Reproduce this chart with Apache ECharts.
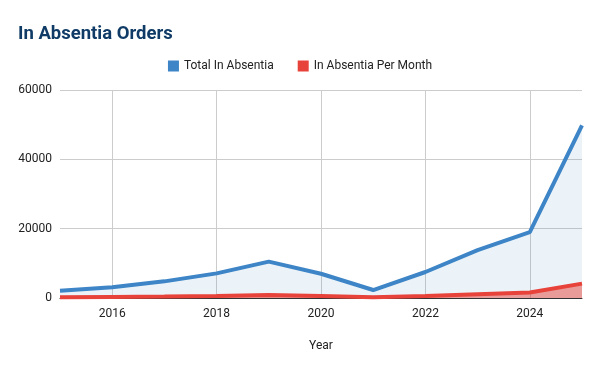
<!DOCTYPE html>
<html><head><meta charset="utf-8">
<script src="https://cdn.jsdelivr.net/npm/echarts@6/dist/echarts.min.js"></script>
<style>html,body{margin:0;padding:0;background:#fff}#c{width:600px;height:371px}</style>
</head><body><div id="c"></div>
<script>
const years = ['2015','2016','2017','2018','2019','2020','2021','2022','2023','2024','2025'];
const totalInAbsentia = [2100, 3100, 4800, 7100, 10500, 7000, 2300, 7500, 13800, 19000, 49800];
const perMonth = [200, 300, 400, 600, 900, 600, 200, 600, 1100, 1600, 4150];
const yTicks = [0, 20000, 40000, 60000];

const chart = echarts.init(document.getElementById('c'));
chart.setOption({
  animation: false,
  textStyle: {fontFamily: 'Roboto'},
  title: {text: 'In Absentia Orders', left: 13, top: 20,
    textStyle: {fontSize: 18.5, fontWeight: 'bold', color: '#0f3b66', fontFamily: 'Roboto'}},
  legend: {top: 55, left: 'center', itemWidth: 11, itemHeight: 11, itemGap: 24, icon: 'rect',
    textStyle: {fontSize: 12, color: '#222'},
    data: ['Total In Absentia', 'In Absentia Per Month']},
  grid: {left: 60, right: 18, top: 90, bottom: 73},
  xAxis: {type: 'category', data: years, boundaryGap: false,
    name: 'Year', nameLocation: 'middle', nameGap: 42,
    nameTextStyle: {fontSize: 12, color: '#222'},
    axisLine: {lineStyle: {color: '#333', width: 1}},
    axisTick: {show: false},
    axisLabel: {fontSize: 12, color: '#222', margin: 10, interval: (i, v) => (+v) % 2 === 0},
    splitLine: {show: true, interval: (i, v) => (+v) % 2 === 0, lineStyle: {color: '#ccc'}}},
  yAxis: {type: 'value', min: yTicks[0], max: yTicks[yTicks.length-1], interval: 20000,
    axisLine: {show: false}, axisTick: {show: false},
    axisLabel: {fontSize: 12, color: '#222', margin: 8, formatter: v => String(v)},
    splitLine: {lineStyle: {color: '#ccc'}}},
  series: [
    {name: 'Total In Absentia', type: 'line', data: totalInAbsentia, symbol: 'none',
      lineStyle: {width: 4, color: '#3d85c6'}, itemStyle: {color: '#3d85c6'},
      areaStyle: {color: '#3d85c6', opacity: 0.1}},
    {name: 'In Absentia Per Month', type: 'line', data: perMonth, symbol: 'none',
      lineStyle: {width: 4, color: '#e8433a'}, itemStyle: {color: '#e8433a'},
      areaStyle: {color: '#e8433a', opacity: 0.5}}
  ]
});
</script></body></html>
